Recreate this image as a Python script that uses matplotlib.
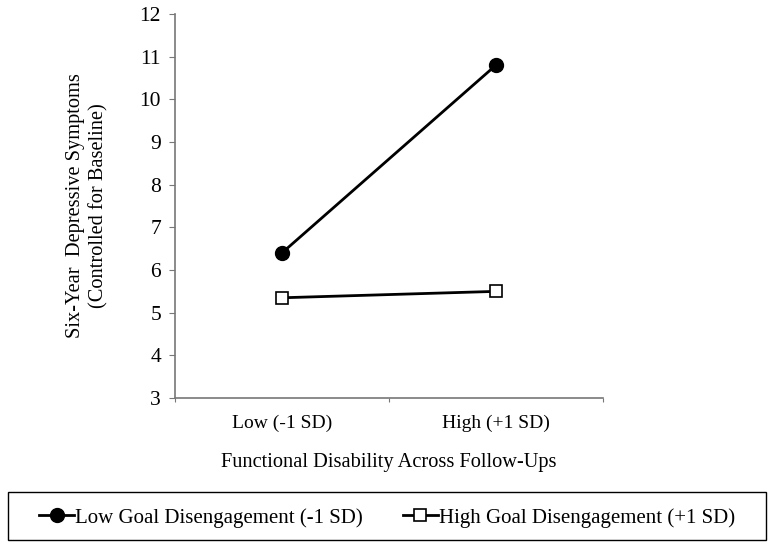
import matplotlib.pyplot as plt
from matplotlib.patches import Rectangle
from matplotlib.ticker import FixedLocator, NullFormatter

# values
categories = ['Low (-1 SD)', 'High (+1 SD)']
low_disengage = [6.4, 10.8]
high_disengage = [5.35, 5.5]
series_labels = ['Low Goal Disengagement (-1 SD)', 'High Goal Disengagement (+1 SD)']

plt.rcParams['font.family'] = ['Liberation Serif', 'DejaVu Serif']

fig = plt.figure(figsize=(7.74, 5.56), dpi=100)
ax = fig.add_axes([0.226, 0.284, 0.553, 0.691])

x = list(range(len(categories)))
ax.plot(x, low_disengage, color='black', lw=2, marker='o', markersize=10,
        label=series_labels[0])
ax.plot(x, high_disengage, color='black', lw=2, marker='s', markersize=9,
        markerfacecolor='white', markeredgewidth=1.2, label=series_labels[1])

ax.set_xlim(-0.5, 1.5)
ax.set_ylim(3, 12)
ax.set_yticks(range(3, 13))

# category boundaries get the tick marks, labels sit between them
ax.xaxis.set_major_locator(FixedLocator([-0.5, 0.5, 1.5]))
ax.xaxis.set_major_formatter(NullFormatter())
ax.xaxis.set_minor_locator(FixedLocator(x))
ax.set_xticklabels(categories, minor=True)
ax.tick_params(axis='x', which='minor', length=0, pad=12, labelsize=14)
ax.tick_params(axis='x', which='major', direction='out', length=3, color='#777777')
ax.tick_params(axis='y', direction='out', length=4, color='#777777', labelsize=15.5, pad=6)

for s in ['top', 'right']:
    ax.spines[s].set_visible(False)
for s in ['left', 'bottom']:
    ax.spines[s].set_color('#777777')
    ax.spines[s].set_linewidth(1.2)

ax.set_xlabel('Functional Disability Across Follow-Ups', fontsize=14.7, labelpad=15)
ax.set_ylabel('Six-Year  Depressive Symptoms\n(Controlled for Baseline)', fontsize=14.7,
              labelpad=22, linespacing=1.35)

# box drawn by hand, legend centred inside it
fig.patches.append(Rectangle((0.010, 0.029), 0.98, 0.086, transform=fig.transFigure,
                             fill=False, edgecolor='black', lw=1.0))
fig.legend(loc='center', bbox_to_anchor=(0.5, 0.069), ncol=2, frameon=False,
           fontsize=15, handlelength=1.7, handletextpad=0.05,
           columnspacing=1.9)

plt.savefig('out.png', dpi=100)
